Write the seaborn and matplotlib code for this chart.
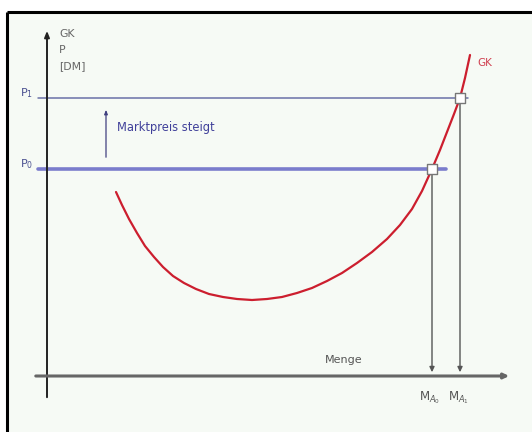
import numpy as np
import pandas as pd
import matplotlib.pyplot as plt
import seaborn as sns
from matplotlib.patches import Rectangle

# GK curve (Menge, Preis)
menge = [6.9, 7.5, 8.2, 9.0, 9.8, 10.7, 11.6, 12.6, 13.7, 14.9, 16.2,
         17.6, 19.0, 20.5, 22.0, 23.5, 25.0, 26.5, 28.0, 29.5, 31.0,
         32.5, 34.0, 35.3, 36.5, 37.5, 38.5, 39.3, 40.0, 40.7, 41.3,
         41.8, 42.3]
gk = [18.4, 17.1, 15.7, 14.3, 13.0, 11.9, 10.9, 10.0, 9.3, 8.7, 8.2,
      7.9, 7.7, 7.6, 7.7, 7.9, 8.3, 8.8, 9.5, 10.3, 11.3,
      12.4, 13.7, 15.1, 16.7, 18.5, 20.7, 22.6, 24.4, 26.2, 27.8,
      29.8, 32.1]

p_levels = [20.7, 27.8]          # P0, P1
p_labels = ["P$_0$", "P$_1$"]
m_levels = [38.5, 41.3]          # MA0, MA1
m_labels = ["M$_{A_0}$", "M$_{A_1}$"]

sns.set_theme(style="white")
plt.rcParams['font.family'] = ['DejaVu Sans']
plt.rcParams['mathtext.fontset'] = 'dejavusans'

fig = plt.figure(figsize=(5.32, 4.32), dpi=100)
fig.patch.set_facecolor("white")
ax = fig.add_axes([0, 0, 1, 1])
ax.set_xlim(-4.7, 48.5)
ax.set_ylim(-5.6, 37.6)
ax.axis("off")

# panel background + frame (top and left edge only)
ax.add_patch(Rectangle((7 / 532, 0), 1, 420 / 432, transform=ax.transAxes,
                       facecolor="#f6faf5", edgecolor="none", zorder=0))
ax.plot([7 / 532, 7 / 532], [0, 420 / 432], transform=ax.transAxes,
        color="black", lw=2.2, solid_capstyle="butt", zorder=1)
ax.plot([7 / 532, 1], [420 / 432, 420 / 432], transform=ax.transAxes,
        color="black", lw=2.2, solid_capstyle="butt", zorder=1)

# axes
ax.annotate("", xy=(0, 34.8), xytext=(0, -2.4),
            arrowprops=dict(arrowstyle="-|>,head_length=0.3,head_width=0.12",
                            color="#222222", lw=1.4), zorder=3)
ax.annotate("", xy=(46.5, 0), xytext=(-1.4, 0),
            arrowprops=dict(arrowstyle="-|>,head_length=0.25,head_width=0.12",
                            color="#666666", lw=2.2), zorder=3)

# price levels: P0 thick, P1 thin
p_ends = [39.9, 42.1]
p_widths = [2.6, 1.1]
p_colors = ["#7a7ccc", "#6a70a8"]
for p, end, w, c, lab in zip(p_levels, p_ends, p_widths, p_colors, p_labels):
    ax.plot([-0.9, end], [p, p], color=c, lw=w, zorder=2)
    ax.text(-2.0, p + 0.5, lab, color="#4a5090", fontsize=8, ha="center",
            va="center")

# quantity drop lines
for m, p, lab in zip(m_levels, p_levels, m_labels):
    ax.annotate("", xy=(m, 0.1), xytext=(m, p),
                arrowprops=dict(arrowstyle="-|>,head_length=0.25,head_width=0.12",
                                color="#555555", lw=1.0), zorder=2)
    ax.text(m - 0.2, -1.3, lab, color="#555555", fontsize=8.5, ha="center",
            va="top")

# GK curve
df = pd.DataFrame({"Menge": menge, "GK": gk})
sns.lineplot(data=df, x="Menge", y="GK", sort=False, color="#cc1e2e",
             lw=1.6, ax=ax, zorder=4)
ax.text(43.0, 31.3, "GK", color="#d04050", fontsize=7.5, ha="left",
        va="center")

# intersections
pts = pd.DataFrame({"m": m_levels, "p": p_levels})
sns.scatterplot(data=pts, x="m", y="p", marker="s", s=55, color="white",
                edgecolor="#777777", linewidth=1.0, ax=ax, zorder=5)

# Marktpreis steigt
ax.annotate("", xy=(5.9, 26.9), xytext=(5.9, 21.6),
            arrowprops=dict(arrowstyle="-|>,head_length=0.2,head_width=0.08",
                            color="#404080", lw=0.9), zorder=3)
ax.text(7.0, 24.8, "Marktpreis steigt", color="#40409a", fontsize=8.3,
        ha="left", va="center")

# axis labels
ax.text(1.2, 34.7, "GK\nP\n[DM]", color="#666666", fontsize=7.8,
        ha="left", va="top", linespacing=1.75)
ax.text(29.7, 1.6, "Menge", color="#555555", fontsize=8, ha="center",
        va="center")

ax.set_xlabel("")
ax.set_ylabel("")
fig.savefig("out.png", dpi=100, facecolor=fig.get_facecolor())
